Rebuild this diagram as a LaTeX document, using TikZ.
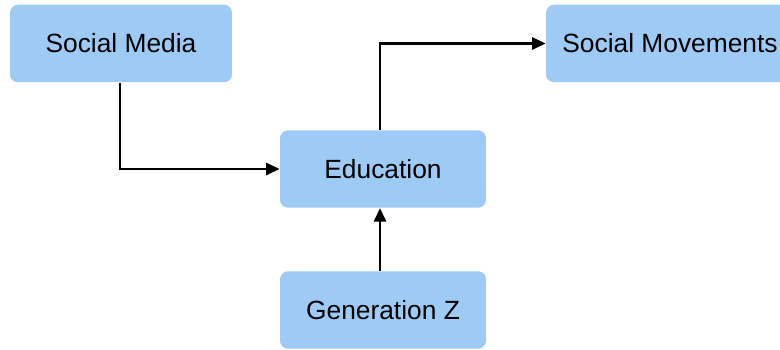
\documentclass[tikz,border=0pt]{standalone}
\usepackage{fontspec}
\setmainfont{Liberation Sans}
\usetikzlibrary{arrows.meta}

\definecolor{boxblue}{HTML}{9DCBF5}

\tikzset{
  topic/.style={rectangle, rounded corners=0.16cm, fill=boxblue, draw=none,
    minimum height=1.55cm, font=\fontsize{15}{18}\selectfont, inner xsep=0.3cm},
  link/.style={line width=1.5pt, -{Triangle[length=0.27cm,width=0.24cm]}}
}

\begin{document}
\begin{tikzpicture}[x=0.02cm,y=-0.02cm]

\useasboundingbox (0,0) rectangle (780,350);

\node[topic, minimum width=4.44cm] (media) at (121,43.5) {Social Media};
\node[topic, minimum width=4.96cm] (move) at (670,43.5) {Social Movements};
\node[topic, minimum width=4.12cm] (edu) at (383,169) {Education};
\node[topic, minimum width=4.12cm] (genz) at (383,310) {Generation Z};

\draw[link] (media.south -| 120,0) |- (edu.west);
\draw[link] (edu.north -| 380,0) |- (move.west);
\draw[link] (genz.north -| 380,0) -- (edu.south -| 380,0);

\end{tikzpicture}
\end{document}
